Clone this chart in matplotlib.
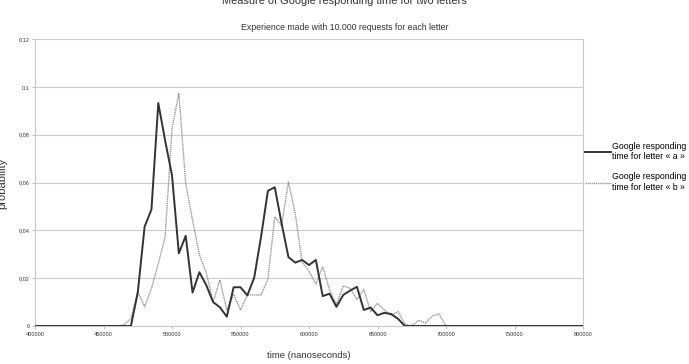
"""Probability of Google response time for letters a and b."""
import matplotlib

matplotlib.use("Agg")
import matplotlib.pyplot as plt  # noqa: E402
from matplotlib.ticker import FuncFormatter, MultipleLocator  # noqa: E402

plt.rcParams["font.family"] = ["Liberation Sans Narrow", "Liberation Sans", "DejaVu Sans"]

# Bins of 5000 ns from 400000 to 800000
times = list(range(400000, 805000, 5000))

# Letter "a": 400000..465000 zero, then values from 470000
prob_a_head = [0.0] * 14
prob_a_body = [
    0.0, 0.0140, 0.0415, 0.0487, 0.0932, 0.0775, 0.0630, 0.0304, 0.0377, 0.0140,
    0.0225, 0.0171, 0.0100, 0.0078, 0.0039, 0.0162, 0.0162, 0.0128, 0.0202, 0.0373,
    0.0565, 0.0580, 0.0429, 0.0288, 0.0265, 0.0276, 0.0255, 0.0276, 0.0125, 0.0135,
    0.0080, 0.0130, 0.0148, 0.0164, 0.0067, 0.0077, 0.0045, 0.0055, 0.0050, 0.0030,
    0.0,
]
prob_a = prob_a_head + prob_a_body
prob_a += [0.0] * (len(times) - len(prob_a))

# Letter "b": 400000..460000 zero, then values from 465000
prob_b_head = [0.0] * 13
prob_b_body = [
    0.0005, 0.0030, 0.0143, 0.0081, 0.0157, 0.0260, 0.0373, 0.0826, 0.0973, 0.0596,
    0.0443, 0.0297, 0.0223, 0.0100, 0.0193, 0.0067, 0.0132, 0.0067, 0.0130, 0.0130,
    0.0130, 0.0195, 0.0457, 0.0420, 0.0602, 0.0470, 0.0265, 0.0230, 0.0175, 0.0248,
    0.0150, 0.0090, 0.0168, 0.0157, 0.0111, 0.0153, 0.0060, 0.0095, 0.0067, 0.0045,
    0.0060, 0.0008, 0.0, 0.0024, 0.0012, 0.0042, 0.0050, 0.0,
]
prob_b = prob_b_head + prob_b_body
prob_b += [0.0] * (len(times) - len(prob_b))

label_a = "Google responding\ntime for letter « a »"
label_b = "Google responding\ntime for letter « b »"

fig = plt.figure(figsize=(6.89, 3.64), dpi=100)
ax = fig.add_axes([35 / 689, 1 - 326 / 364, (583 - 35) / 689, (326 - 39) / 364])

ax.plot(times, prob_b, color="#9a9a9a", linewidth=1.0, linestyle=(0, (1, 0.5)),
        label=label_b, zorder=3)
ax.plot(times, prob_a, color="#333333", linewidth=1.4, label=label_a, zorder=4)

ax.set_xlim(400000, 800000)
ax.set_ylim(0, 0.12)
ax.xaxis.set_major_locator(MultipleLocator(50000))
ax.yaxis.set_major_locator(MultipleLocator(0.02))
ax.yaxis.set_major_formatter(FuncFormatter(
    lambda v, _: "0" if abs(v) < 1e-9 else f"{v:.2f}".rstrip("0").replace(".", ",")))
ax.tick_params(axis="both", labelsize=4.0, length=2.5, width=0.6,
               color="#b0b0b0", pad=1.5, labelcolor="#333333")
ax.grid(axis="y", color="#cccccc", linewidth=0.8)
ax.set_axisbelow(True)
for side in ("left", "right", "bottom"):
    ax.spines[side].set_color("#c8c8c8")
    ax.spines[side].set_linewidth(0.8)
ax.spines["top"].set_visible(False)

handles, labels = ax.get_legend_handles_labels()
ax.legend(handles[::-1], labels[::-1], loc="center left", bbox_to_anchor=(0.998, 0.555),
          frameon=False, fontsize=6.3, handlelength=2.9, handletextpad=0.1,
          labelspacing=1.3, borderaxespad=0.0)

fig.text(0.5, 1 - 1 / 364, "Measure of Google responding time for two letters",
         ha="center", va="center", fontsize=7.9, color="#333333")
fig.text(0.5, 1 - 28 / 364, "Experience made with 10.000 requests for each letter",
         ha="center", va="center", fontsize=6.3, color="#333333")
fig.text(2 / 689, 1 - 183 / 364, "probability", rotation=90,
         ha="center", va="center", fontsize=8, color="#333333")
fig.text(309 / 689, 1 - 356 / 364, "time (nanoseconds)",
         ha="center", va="center", fontsize=6.8, color="#333333")

fig.savefig("out.png", dpi=100)
plt.close(fig)
